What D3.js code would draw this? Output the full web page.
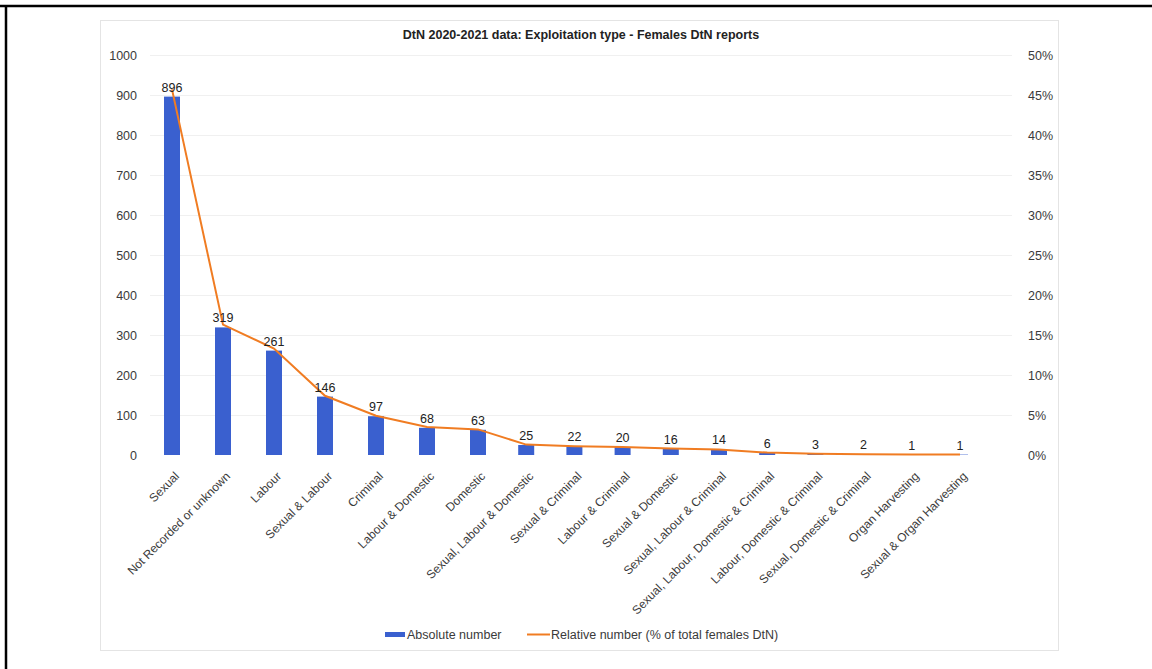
<!DOCTYPE html>
<html><head><meta charset="utf-8">
<script src="https://cdn.jsdelivr.net/npm/d3@7"></script>
<style>
html,body{margin:0;padding:0;background:#fff;}
svg{display:block;font-family:"Liberation Sans",Arial,sans-serif;}
</style></head>
<body><svg id="chart" width="1152" height="669"></svg>
<script>
const categories = ["Sexual","Not Recorded or unknown","Labour","Sexual & Labour","Criminal","Labour & Domestic","Domestic","Sexual, Labour & Domestic","Sexual & Criminal","Labour & Criminal","Sexual & Domestic","Sexual, Labour & Criminal","Sexual, Labour, Domestic & Criminal","Labour, Domestic & Criminal","Sexual, Domestic & Criminal","Organ Harvesting","Sexual & Organ Harvesting"];
const absoluteValues = [896,319,261,146,97,68,63,25,22,20,16,14,6,3,2,1,1];
const relativeValues = [45.7,16.3,13.3,7.4,4.9,3.5,3.2,1.3,1.1,1.0,0.8,0.7,0.3,0.15,0.1,0.05,0.05];
const leftTicks = [0,100,200,300,400,500,600,700,800,900,1000];
const rightTicks = [0,5,10,15,20,25,30,35,40,45,50];
const title = "DtN 2020-2021 data: Exploitation type - Females DtN reports";
const legendLabels = ["Absolute number","Relative number (% of total females DtN)"];

const svg = d3.select("#chart");
const blue = "#3a60cf", orange = "#f07c22", txt = "#3a3a3a";

// outer frame lines
svg.append("line").attr("x1",0).attr("x2",1152).attr("y1",6).attr("y2",6).attr("stroke","#000").attr("stroke-width",2.5);
svg.append("line").attr("x1",6).attr("x2",6).attr("y1",5).attr("y2",669).attr("stroke","#000").attr("stroke-width",2.5);

// chart area
svg.append("rect").attr("x",100.5).attr("y",20.5).attr("width",958).attr("height",630)
  .attr("fill","#fff").attr("stroke","#e4e4e4").attr("stroke-width",1);

const y = d3.scaleLinear().domain([0,1000]).range([455,55]);
const y2 = d3.scaleLinear().domain([0,50]).range([455,55]);
const idx = d3.range(categories.length);
const x = d3.scaleLinear().domain([0,6,16]).range([172,478,960]);
const barW = 16;

// gridlines
svg.append("g").selectAll("line").data(leftTicks.filter(d=>d>0)).join("line")
  .attr("x1",150).attr("x2",1012).attr("y1",d=>y(d)+0.5).attr("y2",d=>y(d)+0.5)
  .attr("stroke","#f0f0f0").attr("stroke-width",1);

// left axis
const la = svg.append("g").attr("transform","translate(140,0)")
  .call(d3.axisLeft(y).tickValues(leftTicks).tickSize(0).tickPadding(3).tickFormat(d3.format("d")));
la.select(".domain").remove();
la.selectAll("text").attr("font-size",12.5).attr("fill",txt).attr("font-family","Liberation Sans, Arial, sans-serif");

// right axis
const ra = svg.append("g").attr("transform","translate(1025,0)")
  .call(d3.axisRight(y2).tickValues(rightTicks).tickSize(0).tickPadding(3).tickFormat(d=>d+"%"));
ra.select(".domain").remove();
ra.selectAll("text").attr("font-size",12.5).attr("fill",txt).attr("font-family","Liberation Sans, Arial, sans-serif");

// bars
svg.append("g").selectAll("rect").data(idx).join("rect")
  .attr("x",i=>x(i)-barW/2).attr("width",barW)
  .attr("y",i=>y(absoluteValues[i])).attr("height",i=>y(0)-y(absoluteValues[i]))
  .attr("fill",blue);

// line
svg.append("path").datum(idx)
  .attr("d",d3.line().x(i=>x(i)).y(i=>y2(relativeValues[i])))
  .attr("fill","none").attr("stroke",orange).attr("stroke-width",2);

// value labels
svg.append("g").selectAll("text").data(idx).join("text")
  .attr("x",i=>x(i)).attr("y",i=>y(absoluteValues[i])-5)
  .attr("text-anchor","middle").attr("font-size",12.5).attr("fill","#222")
  .text(i=>absoluteValues[i]);

// x category labels
svg.append("g").selectAll("text").data(idx).join("text")
  .attr("transform",i=>`translate(${x(i)+5},${474}) rotate(-45)`)
  .attr("text-anchor","end").attr("dy","0.35em").attr("font-size",12).attr("fill",txt)
  .text(i=>categories[i]);

// title
svg.append("text").attr("x",581).attr("y",39).attr("text-anchor","middle")
  .attr("font-size",12.5).attr("font-weight","bold").attr("fill","#222").text(title);

// legend
const lg = svg.append("g");
lg.append("rect").attr("x",385).attr("y",632).attr("width",20).attr("height",5).attr("fill",blue);
lg.append("text").attr("x",407).attr("y",639).attr("font-size",12.5).attr("fill",txt).text(legendLabels[0]);
lg.append("line").attr("x1",527).attr("x2",550).attr("y1",634.5).attr("y2",634.5).attr("stroke",orange).attr("stroke-width",2);
lg.append("text").attr("x",551).attr("y",639).attr("font-size",12.5).attr("fill",txt).text(legendLabels[1]);
</script></body></html>
